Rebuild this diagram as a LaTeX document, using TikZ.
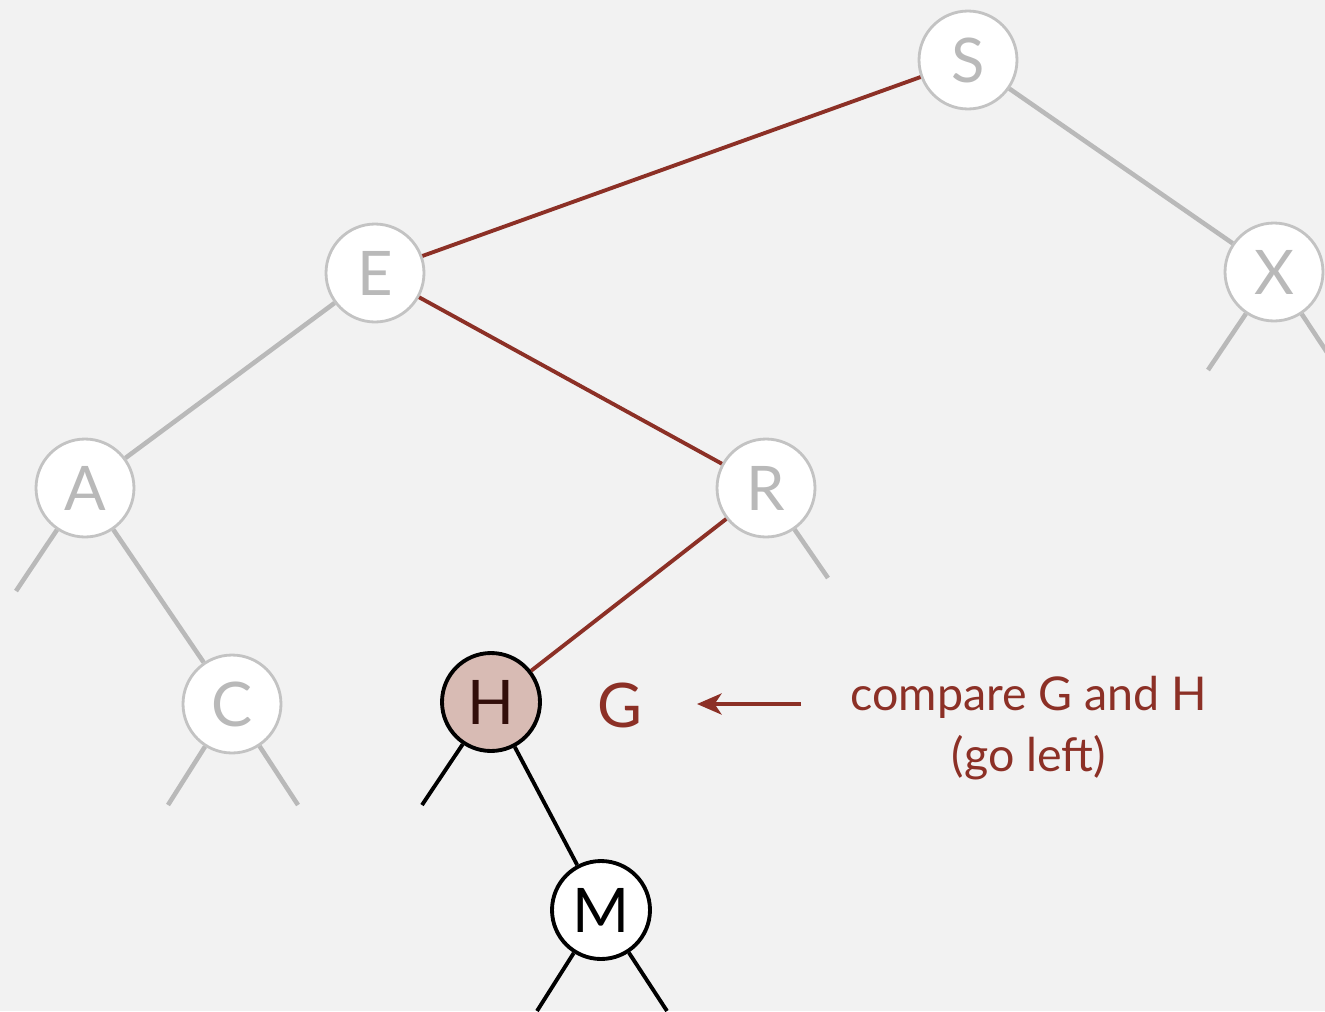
\documentclass[tikz,border=0pt]{standalone}
\usepackage{fontspec}
\setmainfont{Lato}
\usetikzlibrary{arrows.meta}
\usetikzlibrary{positioning}
\definecolor{bgcol}{RGB}{242,242,242}
\definecolor{pathred}{RGB}{140,48,38}
\definecolor{fadegray}{RGB}{185,185,185}
\definecolor{hitfill}{RGB}{216,187,180}
\definecolor{hittext}{RGB}{50,14,10}
\tikzset{basic key/.style={draw,circle,minimum size=1.96cm,inner sep=0pt,fill=white,
                           font=\fontsize{35}{38}\selectfont}}
\tikzset{old key/.style={basic key,draw=fadegray!85!white,line width=1.6pt,text=fadegray}}
\tikzset{link/.style={draw,line width=2.6pt}}
\begin{document}
\begin{tikzpicture}
      [
      x=0.02cm,y=-0.02cm,
      cur key/.style={basic key,line width=2.2pt,text=black},
      ]

      \fill [bgcol] (0,0) rectangle (1325,1011);
      \useasboundingbox (0,0) rectangle (1325,1011);

      % stub ends
      \foreach \n/\x/\y in
      {
      xl/1208/370, xr/1340/372, al/16/591, rr/828/578,
      cl/168/805, cr/298/805, hl/422/805, ml/537/1011, mr/667/1011
      }
      {
      \coordinate (\n) at (\x,\y);
      }

      % keys
      \foreach \k/\x/\y in
      {
      S/968/60, E/375/273, X/1274/272, A/85/488, R/766/488, C/232/704
      }
      {
      \node [old key] (\k) at (\x,\y) {\k};
      }
      \node [cur key,fill=hitfill,text=hittext] (H) at (491,702) {H};
      \node [cur key] (M) at (601,910) {M};

      % edges
      \path [link,color=fadegray] (S) -- (X);
      \path [link,color=fadegray] (X) -- (xl);
      \path [link,color=fadegray] (X) -- (xr);
      \path [link,color=fadegray] (E) -- (A);
      \path [link,color=fadegray] (A) -- (al);
      \path [link,color=fadegray] (A) -- (C);
      \path [link,color=fadegray] (R) -- (rr);
      \path [link,color=fadegray] (C) -- (cl);
      \path [link,color=fadegray] (C) -- (cr);

      \path [link,color=pathred,line width=2.2pt] (S) -- (E);
      \path [link,color=pathred,line width=2.2pt] (E) -- (R);
      \path [link,color=pathred,line width=2.2pt] (R) -- (H);

      \path [link,color=black,line width=2.2pt] (H) -- (hl);
      \path [link,color=black,line width=2.2pt] (H) -- (M);
      \path [link,color=black,line width=2.2pt] (M) -- (ml);
      \path [link,color=black,line width=2.2pt] (M) -- (mr);

      % search key and note
      \node [text=pathred,font=\fontsize{35}{38}\selectfont] (G) at (620,705) {G};
      \node [text=pathred,font=\fontsize{26.5}{35}\selectfont,align=center] (note) at (1029,728)
      {compare G and H\\(go left)};
      \coordinate (tail) at (801,704);
      \draw [color=pathred,line width=2.2pt,-{Stealth[length=14pt,width=12pt,inset=4pt]}] (tail) -- (697,704);

    \end{tikzpicture}
\end{document}
